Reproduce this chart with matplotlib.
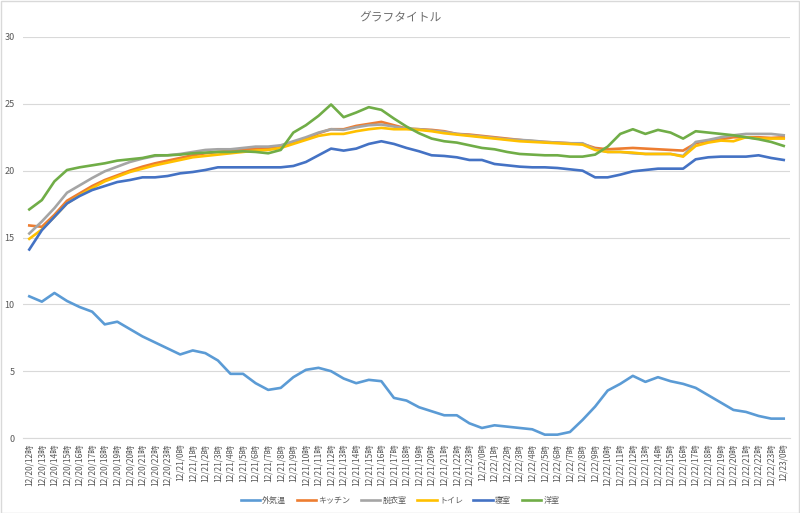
import matplotlib
matplotlib.use("Agg")
import matplotlib.pyplot as plt
from matplotlib.patches import Rectangle

plt.rcParams['font.family'] = ['Noto Sans CJK JP', 'DejaVu Sans']

# Categories (time labels)
days = ["12/20"] * 12 + ["12/21"] * 24 + ["12/22"] * 24 + ["12/23"]
hours = list(range(12, 24)) + list(range(24)) + list(range(24)) + [0]
categories = [f"{d}/{h}時" for d, h in zip(days, hours)]

series_names = ["外気温", "キッチン", "脱衣室", "トイレ", "寝室", "洋室"]

outside = [10.6, 10.2, 10.85, 10.25, 9.8, 9.45, 8.5, 8.7, 8.15, 7.6,
           7.15, 6.7, 6.25, 6.55, 6.35, 5.8, 4.8, 4.8, 4.1, 3.6,
           3.75, 4.55, 5.1, 5.25, 5.0, 4.45, 4.1, 4.35, 4.25, 3.0,
           2.8, 2.3, 2.0, 1.7, 1.7, 1.1, 0.75, 0.95, 0.85, 0.75,
           0.65, 0.25, 0.25, 0.45, 1.35, 2.35, 3.55, 4.05, 4.65, 4.2,
           4.55, 4.25, 4.05, 3.75, 3.2, 2.65, 2.1, 1.95, 1.65, 1.45,
           1.45]

kitchen = [15.9, 15.8, 16.7, 17.75, 18.3, 18.85, 19.3, 19.65, 20.0, 20.3,
           20.55, 20.75, 20.95, 21.15, 21.3, 21.4, 21.5, 21.6, 21.65, 21.7,
           21.85, 22.1, 22.4, 22.8, 23.1, 23.1, 23.35, 23.5, 23.65, 23.4,
           23.15, 23.1, 23.05, 22.95, 22.75, 22.7, 22.6, 22.5, 22.4, 22.3,
           22.2, 22.15, 22.1, 22.05, 22.0, 21.7, 21.6, 21.65, 21.7, 21.65,
           21.6, 21.55, 21.5, 22.05, 22.25, 22.35, 22.5, 22.5, 22.5, 22.45,
           22.5]

dressing = [15.3, 16.2, 17.2, 18.35, 18.9, 19.45, 19.95, 20.3, 20.65, 20.9,
            21.1, 21.15, 21.25, 21.4, 21.55, 21.6, 21.6, 21.7, 21.8, 21.8,
            21.9, 22.2, 22.5, 22.85, 23.1, 23.05, 23.25, 23.4, 23.45, 23.3,
            23.15, 23.1, 23.0, 22.9, 22.75, 22.65, 22.55, 22.45, 22.35, 22.3,
            22.25, 22.15, 22.1, 22.05, 22.05, 21.6, 21.4, 21.4, 21.3, 21.25,
            21.25, 21.25, 21.1, 22.15, 22.3, 22.5, 22.65, 22.75, 22.75, 22.75,
            22.65]

toilet = [14.9, 15.6, 16.55, 17.55, 18.15, 18.7, 19.2, 19.55, 19.9, 20.15,
          20.4, 20.6, 20.8, 21.0, 21.1, 21.2, 21.3, 21.4, 21.5, 21.55,
          21.7, 22.0, 22.3, 22.6, 22.75, 22.75, 22.95, 23.1, 23.2, 23.1,
          23.1, 23.05, 22.95, 22.8, 22.7, 22.6, 22.5, 22.4, 22.3, 22.2,
          22.15, 22.1, 22.05, 22.0, 21.95, 21.55, 21.4, 21.4, 21.35, 21.25,
          21.25, 21.25, 21.05, 21.85, 22.1, 22.25, 22.2, 22.5, 22.4, 22.4,
          22.4]

bedroom = [14.1, 15.55, 16.55, 17.55, 18.1, 18.55, 18.85, 19.15, 19.3, 19.5,
           19.5, 19.6, 19.8, 19.9, 20.05, 20.25, 20.25, 20.25, 20.25, 20.25,
           20.25, 20.35, 20.65, 21.15, 21.65, 21.5, 21.65, 22.0, 22.2, 22.0,
           21.7, 21.45, 21.15, 21.1, 21.0, 20.8, 20.8, 20.5, 20.4, 20.3,
           20.25, 20.25, 20.2, 20.1, 20.0, 19.5, 19.5, 19.7, 19.95, 20.05,
           20.15, 20.15, 20.15, 20.85, 21.0, 21.05, 21.05, 21.05, 21.15, 20.95,
           20.8]

western = [17.1, 17.8, 19.2, 20.05, 20.25, 20.4, 20.55, 20.75, 20.85, 20.95,
           21.15, 21.15, 21.2, 21.3, 21.35, 21.4, 21.4, 21.45, 21.4, 21.3,
           21.55, 22.85, 23.4, 24.1, 24.95, 24.0, 24.35, 24.75, 24.55, 23.9,
           23.3, 22.8, 22.4, 22.2, 22.1, 21.9, 21.7, 21.6, 21.4, 21.25,
           21.2, 21.15, 21.15, 21.05, 21.05, 21.2, 21.8, 22.75, 23.1, 22.75,
           23.05, 22.85, 22.4, 22.95, 22.85, 22.75, 22.65, 22.5, 22.35, 22.15,
           21.85]

yticks = [0, 5, 10, 15, 20, 25, 30]

colors = ["#5B9BD5", "#ED7D31", "#A5A5A5", "#FFC000", "#4472C4", "#70AD47"]
all_series = [outside, kitchen, dressing, toilet, bedroom, western]

W, H = 800, 513
fig = plt.figure(figsize=(W / 100, H / 100), dpi=100)
fig.patches.append(Rectangle((0.5 / W, 0.5 / H), 1 - 1.5 / W, 1 - 1.5 / H,
                             transform=fig.transFigure, fill=False,
                             edgecolor="#D9D9D9", linewidth=1.0))

left, right = 23 / W, 790 / W
bottom, top = 1 - 438 / H, 1 - 37 / H
ax = fig.add_axes([left, bottom, right - left, top - bottom])

x = list(range(len(categories)))
for name, vals, c in zip(series_names, all_series, colors):
    ax.plot(x, vals, color=c, lw=1.9, label=name, solid_joinstyle="round")

ax.set_xlim(-0.5, len(categories) - 0.5)
ax.set_ylim(0, 30)
ax.set_yticks(yticks)
ax.set_yticklabels([str(v) for v in yticks], fontsize=6.5, color="#595959")
ax.set_xticks(x)
ax.set_xticklabels(categories, rotation=90, fontsize=6, color="#595959")
ax.tick_params(axis="both", length=0)
ax.tick_params(axis="y", pad=6)
ax.tick_params(axis="x", pad=4)
ax.grid(axis="y", color="#D9D9D9", lw=0.8)
ax.set_axisbelow(True)
for s in ["top", "right", "left"]:
    ax.spines[s].set_visible(False)
ax.spines["bottom"].set_color("#D9D9D9")
ax.spines["bottom"].set_linewidth(0.8)

fig.text(0.5, 1 - 17 / H, "グラフタイトル", ha="center", va="center",
         fontsize=8.5, color="#6E6E6E")

handles, labels = ax.get_legend_handles_labels()
fig.legend(handles, labels, loc="center", bbox_to_anchor=(0.5, 1 - 500 / H),
           ncol=6, frameon=False, fontsize=5.8, handlelength=2.4,
           handletextpad=0.3, columnspacing=1.3, labelcolor="#595959")

fig.savefig("out.png", dpi=100)
